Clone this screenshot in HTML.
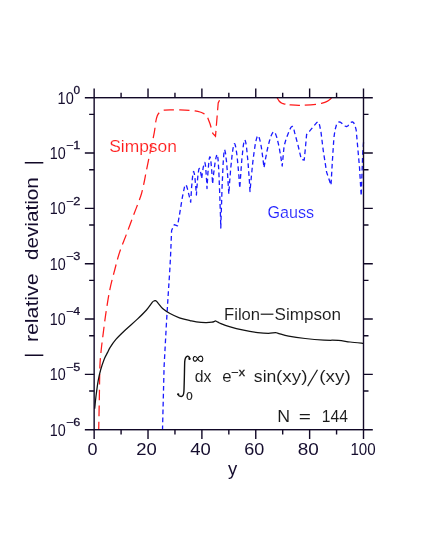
<!DOCTYPE html>
<html><head><meta charset="utf-8"><title>chart</title>
<style>html,body{margin:0;padding:0;background:#fff;width:425px;height:550px;overflow:hidden;font-family:"Liberation Sans",sans-serif}</style>
</head><body>
<svg width="425" height="550" viewBox="0 0 425 550" style="display:block;position:absolute;left:0;top:0;will-change:transform">
<rect x="0" y="0" width="425" height="550" fill="#ffffff"/>
<g fill="none" stroke-linejoin="round">
<path d="M98.70 430.10C98.80 425.08 99.10 410.60 99.30 400.00C99.50 389.40 99.58 374.83 99.90 366.50C100.22 358.17 100.70 355.10 101.20 350.00C101.70 344.90 102.10 342.17 102.90 335.90C103.70 329.63 104.82 320.25 106.00 312.40C107.18 304.55 108.55 295.87 110.00 288.80C111.45 281.73 113.13 275.98 114.70 270.00C116.27 264.02 117.43 258.88 119.40 252.90C121.37 246.92 124.15 240.37 126.50 234.10C128.85 227.83 131.15 221.57 133.50 215.30C135.85 209.03 139.07 200.92 140.60 196.50C142.13 192.08 142.03 191.55 142.70 188.80C143.37 186.05 143.97 183.13 144.60 180.00C145.23 176.87 145.45 175.20 146.50 170.00C147.55 164.80 149.60 155.07 150.90 148.80C152.20 142.53 153.48 136.95 154.30 132.40C155.12 127.85 155.32 124.23 155.80 121.50C156.28 118.77 156.67 117.42 157.20 116.00C157.73 114.58 158.28 113.83 159.00 113.00C159.72 112.17 160.72 111.47 161.50 111.00C162.28 110.53 163.33 110.33 163.70 110.20" stroke="#ff1a1a" stroke-width="1.25" stroke-dasharray="10.53 5.31" stroke-dashoffset="1.93"/>
<path d="M163.70 110.20C164.75 110.15 167.28 109.95 170.00 109.90C172.72 109.85 176.77 109.83 180.00 109.90C183.23 109.97 186.90 110.13 189.40 110.30C191.90 110.47 193.23 110.62 195.00 110.90C196.77 111.18 198.38 111.48 200.00 112.00C201.62 112.52 203.92 113.67 204.70 114.00L207.40 117.00L210.10 124.00L212.80 133.50L215.50 136.30L218.20 103.00L220.90 97.60" stroke="#ff1a1a" stroke-width="1.25" stroke-dasharray="10.3 5.2" stroke-dashoffset="0" stroke-linejoin="miter"/>
<path d="M277.20 97.80C277.52 98.33 278.32 100.08 279.10 101.00C279.88 101.92 280.80 102.77 281.90 103.30C283.00 103.83 284.43 103.95 285.70 104.20C286.97 104.45 287.15 104.62 289.50 104.80C291.85 104.98 295.42 105.37 299.80 105.30C304.18 105.23 312.18 104.73 315.80 104.40C319.42 104.07 319.62 103.80 321.50 103.30C323.38 102.80 325.53 102.18 327.10 101.40C328.67 100.62 330.17 99.20 330.90 98.60C331.63 98.00 331.40 97.93 331.50 97.80" stroke="#ff1a1a" stroke-width="1.25" stroke-dasharray="11 4.2 10.4 4.8 11.2 5.2 14 5"/>
<polyline points="162.5,430.1 164.1,366.5 166.5,322.0 168.3,293.0 169.8,270.0 170.6,255.0 171.6,230.6 174.2,224.7 177.5,225.9 179.4,215.3 182.5,196.5 184.6,186.5 185.6,184.6 186.6,186.0 187.6,189.4 190.7,202.2 190.7,202.2 190.9,198.0 191.2,194.2 191.4,190.5 191.6,187.1 191.9,184.0 192.1,181.2 192.4,178.7 192.6,176.5 192.8,174.7 193.1,173.2 193.3,172.1 193.6,171.5 193.8,171.7 194.0,172.5 194.3,173.5 194.5,174.9 194.7,176.6 195.0,178.5 195.2,180.7 195.4,183.1 195.7,185.8 195.9,188.6 196.2,191.7 196.4,195.0 196.4,195.0 196.6,191.6 196.8,188.5 197.1,185.5 197.3,182.7 197.5,180.2 197.7,177.8 197.9,175.7 198.2,173.8 198.4,172.1 198.6,170.7 198.8,169.6 199.1,168.8 199.3,168.4 199.5,168.5 199.7,168.9 199.9,169.5 200.2,170.2 200.4,171.1 200.6,172.0 200.8,173.2 201.0,174.4 201.3,175.8 201.5,177.2 201.7,178.8 201.7,178.8 201.9,176.9 202.1,175.0 202.4,173.3 202.6,171.7 202.8,170.2 203.0,168.8 203.2,167.5 203.5,166.3 203.7,165.3 203.9,164.4 204.1,163.6 204.3,163.0 204.6,162.6 204.8,162.4 205.0,162.9 205.2,164.0 205.5,165.7 205.7,167.8 205.9,170.4 206.1,173.3 206.3,176.6 206.6,180.2 206.8,184.2 207.0,188.5 207.0,188.5 207.2,184.3 207.5,180.3 207.7,176.6 207.9,173.1 208.2,170.0 208.4,167.1 208.6,164.5 208.9,162.2 209.1,160.3 209.3,158.7 209.6,157.5 209.8,156.8 210.0,156.9 210.3,157.6 210.5,158.8 210.7,160.4 211.0,162.3 211.2,164.6 211.4,167.1 211.7,170.0 211.9,173.1 212.1,176.5 212.4,180.1 212.6,184.0 212.6,184.0 212.9,180.4 213.3,177.0 213.6,173.8 214.0,170.9 214.3,168.1 214.7,165.5 215.0,163.2 215.3,161.1 215.7,159.2 216.0,157.6 216.4,156.2 216.7,155.2 217.0,154.5 217.4,154.4 217.7,156.3 218.1,159.9 218.4,164.7 218.8,170.8 219.1,177.9 219.4,186.1 219.8,195.2 220.1,205.2 220.5,216.2 220.8,228.0 220.8,228.0 221.1,216.4 221.5,205.5 221.8,195.5 222.1,186.3 222.5,177.9 222.8,170.5 223.1,164.0 223.5,158.6 223.8,154.2 224.1,151.1 224.5,149.6 224.8,150.1 225.1,151.3 225.5,153.1 225.8,155.4 226.1,158.2 226.5,161.3 226.8,164.9 227.1,168.9 227.5,173.2 227.8,177.9 228.1,182.9 228.5,188.3 228.8,194.0 228.8,194.0 229.3,187.3 229.7,181.0 230.2,175.1 230.6,169.6 231.1,164.6 231.6,160.0 232.0,155.9 232.5,152.3 232.9,149.2 233.4,146.7 233.8,144.8 234.3,143.7 234.8,143.8 235.2,145.0 235.7,147.0 236.1,149.6 236.6,152.7 237.1,156.4 237.5,160.6 238.0,165.3 238.4,170.4 238.9,175.9 239.3,181.9 239.8,188.3 239.8,188.3 240.2,181.5 240.7,175.1 241.1,169.2 241.5,163.7 241.9,158.7 242.4,154.2 242.8,150.2 243.2,146.7 243.6,143.8 244.1,141.6 244.5,140.2 244.9,139.8 245.3,140.8 245.8,142.6 246.2,145.1 246.6,148.2 247.0,151.9 247.4,156.2 247.9,160.9 248.3,166.1 248.7,171.8 249.2,177.9 249.6,184.5 250.0,191.5 250.0,191.5 250.6,184.7 251.2,178.3 251.8,172.3 252.3,166.7 252.9,161.4 253.5,156.6 254.1,152.1 254.7,148.1 255.2,144.6 255.8,141.6 256.4,139.1 257.0,137.1 257.6,135.9 258.2,135.6 258.8,136.4 259.3,138.0 259.9,140.1 260.5,142.8 261.1,145.9 261.7,149.4 262.2,153.4 262.8,157.8 263.4,162.6 264.0,167.7 264.0,167.7 264.8,163.1 265.5,158.8 266.3,154.8 267.0,151.0 267.8,147.5 268.6,144.3 269.3,141.5 270.1,138.9 270.8,136.6 271.6,134.7 272.3,133.3 273.1,132.2 273.9,131.7 274.6,132.2 275.4,133.5 276.1,135.4 276.9,137.8 277.6,140.6 278.4,143.9 279.2,147.5 279.9,151.6 280.7,156.0 281.4,160.8 282.2,166.0 282.2,166.0 284.1,146.0 286.2,138.6 288.0,134.0 289.8,129.6 291.0,127.2 292.3,126.3 293.5,127.5 294.7,132.9 298.0,145.1 301.3,159.3 304.2,160.0 305.3,149.2 306.6,134.5 310.2,130.4 314.3,125.5 316.5,122.8 317.9,121.8 319.3,124.0 320.9,131.3 323.3,150.9 326.6,172.1 331.0,185.2 332.3,162.3 333.9,137.8 335.0,130.0 336.5,124.7 337.8,122.5 339.2,121.8 340.8,122.4 343.0,124.3 345.0,126.0 346.4,126.6 347.8,126.0 349.5,124.0 351.0,122.4 352.3,121.8 353.6,122.6 355.0,125.5 356.2,130.2 359.5,167.3 361.2,196.0 362.7,154.0 363.7,140.0" stroke="#1a1aff" stroke-width="1.3" stroke-dasharray="4.7 3.2"/>
<path d="M94.70 408.80C94.90 406.83 95.32 401.70 95.90 397.00C96.48 392.30 97.42 385.10 98.20 380.60C98.98 376.10 99.62 373.53 100.60 370.00C101.58 366.47 102.93 362.33 104.10 359.40C105.27 356.47 106.62 354.37 107.60 352.40C108.58 350.43 108.62 349.77 110.00 347.60C111.38 345.43 113.35 342.33 115.90 339.40C118.45 336.47 121.77 333.33 125.30 330.00C128.83 326.67 133.57 322.73 137.10 319.40C140.63 316.07 143.95 312.87 146.50 310.00C149.05 307.13 151.12 303.72 152.40 302.20C153.68 300.68 153.70 301.17 154.20 300.90C154.70 300.63 155.00 300.52 155.40 300.60C155.80 300.68 156.13 300.95 156.60 301.40C157.07 301.85 157.15 302.07 158.20 303.30C159.25 304.53 160.93 307.10 162.90 308.80C164.87 310.50 167.25 312.00 170.00 313.50C172.75 315.00 176.07 316.62 179.40 317.80C182.73 318.98 187.18 319.92 190.00 320.60C192.82 321.28 193.68 321.57 196.30 321.90C198.92 322.23 203.08 322.55 205.70 322.60C208.32 322.65 210.53 322.40 212.00 322.20C213.47 322.00 213.85 321.60 214.50 321.40C215.15 321.20 215.43 320.93 215.90 321.00C216.37 321.07 216.70 321.47 217.30 321.80C217.90 322.13 217.48 322.20 219.50 323.00C221.52 323.80 225.38 325.40 229.40 326.60C233.42 327.80 238.88 329.20 243.60 330.20C248.32 331.20 253.57 332.07 257.70 332.60C261.83 333.13 265.42 333.40 268.40 333.40C271.38 333.40 273.83 332.57 275.60 332.60C277.37 332.63 276.83 333.02 279.00 333.60C281.17 334.18 284.23 335.28 288.60 336.10C292.97 336.92 299.28 337.83 305.20 338.50C311.12 339.17 318.58 339.78 324.10 340.10C329.62 340.42 333.97 340.08 338.30 340.40C342.63 340.72 345.87 341.50 350.10 342.00C354.33 342.50 361.43 343.17 363.70 343.40" stroke="#111111" stroke-width="1.25"/>
</g>
<g stroke="#110826" stroke-width="1.4" fill="none" stroke-linecap="butt">
<rect x="94.15" y="97.70" width="269.35" height="332.00"/>
<path d="M94.15 429.70v9.2M94.15 97.70v-9.2M121.09 429.70v4.9M121.09 97.70v-4.9M148.02 429.70v9.2M148.02 97.70v-9.2M174.96 429.70v4.9M174.96 97.70v-4.9M201.89 429.70v9.2M201.89 97.70v-9.2M228.83 429.70v4.9M228.83 97.70v-4.9M255.76 429.70v9.2M255.76 97.70v-9.2M282.69 429.70v4.9M282.69 97.70v-4.9M309.63 429.70v9.2M309.63 97.70v-9.2M336.57 429.70v4.9M336.57 97.70v-4.9M363.50 429.70v9.2M363.50 97.70v-9.2M94.15 97.70h-9.3M363.50 97.70h9.3M94.15 114.36h-5.0M363.50 114.36h5.0M94.15 153.03h-9.3M363.50 153.03h9.3M94.15 169.69h-5.0M363.50 169.69h5.0M94.15 208.37h-9.3M363.50 208.37h9.3M94.15 225.02h-5.0M363.50 225.02h5.0M94.15 263.70h-9.3M363.50 263.70h9.3M94.15 280.36h-5.0M363.50 280.36h5.0M94.15 319.03h-9.3M363.50 319.03h9.3M94.15 335.69h-5.0M363.50 335.69h5.0M94.15 374.37h-9.3M363.50 374.37h9.3M94.15 391.02h-5.0M363.50 391.02h5.0M94.15 429.70h-9.3M363.50 429.70h9.3"/>
<path d="M24.8 162.8H43.3M24.8 355.2H43.3" stroke-width="1.4"/>
</g>
<g font-family="'Liberation Sans', sans-serif" stroke="#ffffff" stroke-width="0">
<text transform="translate(87.41 454.60) scale(1.1048 1)" font-size="16.3" fill="#150d2e">0</text>
<text transform="translate(136.25 454.60) scale(1.1343 1)" font-size="16.3" fill="#150d2e">20</text>
<text transform="translate(190.18 454.60) scale(1.1328 1)" font-size="16.3" fill="#150d2e">40</text>
<text transform="translate(244.17 454.60) scale(1.1045 1)" font-size="16.3" fill="#150d2e">60</text>
<text transform="translate(297.67 454.60) scale(1.1615 1)" font-size="16.3" fill="#150d2e">80</text>
<text transform="translate(350.44 454.60) scale(0.9300 1)" font-size="16.3" fill="#150d2e">100</text>
<text transform="translate(57.58 103.80) scale(0.8923 1)" font-size="16.3" fill="#150d2e">10</text>
<text transform="translate(73.47 94.00) scale(1.1400 1)" font-size="10.4" fill="#150d2e" stroke="#150d2e" stroke-width="0.25">0</text>
<text transform="translate(49.80 159.13) scale(0.8800 1)" font-size="16.3" fill="#150d2e">10</text>
<text transform="translate(65.89 149.43) scale(1.2230 1)" font-size="10.4" fill="#150d2e" stroke="#150d2e" stroke-width="0.25">−1</text>
<text transform="translate(49.80 214.47) scale(0.8800 1)" font-size="16.3" fill="#150d2e">10</text>
<text transform="translate(65.89 204.77) scale(1.2230 1)" font-size="10.4" fill="#150d2e" stroke="#150d2e" stroke-width="0.25">−2</text>
<text transform="translate(49.80 269.80) scale(0.8800 1)" font-size="16.3" fill="#150d2e">10</text>
<text transform="translate(65.89 260.10) scale(1.2230 1)" font-size="10.4" fill="#150d2e" stroke="#150d2e" stroke-width="0.25">−3</text>
<text transform="translate(49.80 325.13) scale(0.8800 1)" font-size="16.3" fill="#150d2e">10</text>
<text transform="translate(65.90 315.43) scale(1.1955 1)" font-size="10.4" fill="#150d2e" stroke="#150d2e" stroke-width="0.25">−4</text>
<text transform="translate(49.80 380.47) scale(0.8800 1)" font-size="16.3" fill="#150d2e">10</text>
<text transform="translate(65.90 370.77) scale(1.2091 1)" font-size="10.4" fill="#150d2e" stroke="#150d2e" stroke-width="0.25">−5</text>
<text transform="translate(49.80 435.80) scale(0.8800 1)" font-size="16.3" fill="#150d2e">10</text>
<text transform="translate(65.89 426.10) scale(1.2230 1)" font-size="10.4" fill="#150d2e" stroke="#150d2e" stroke-width="0.25">−6</text>
<text transform="translate(228.07 475.00) scale(1.0286 1)" font-size="18" fill="#150d2e">y</text>
<text transform="translate(38.20 342.10) rotate(-90) scale(1.1224 1)" font-size="19" fill="#150d2e">relative</text>
<text transform="translate(38.20 260.02) rotate(-90) scale(1.0901 1)" font-size="19" fill="#150d2e">deviation</text>
<text transform="translate(109.21 151.60) scale(1.0544 1)" font-size="16.5" fill="#ff1a1a" stroke-width="0.15">Simpson</text>
<text transform="translate(267.57 218.20) scale(0.9768 1)" font-size="16.5" fill="#1a1aff" stroke-width="0.15">Gauss</text>
<text transform="translate(224.04 319.50) scale(1.0090 1)" font-size="16.5" fill="#1a1a1a" stroke-width="0.05">Filon</text>
<text transform="translate(274.52 319.50) scale(1.0368 1)" font-size="16.5" fill="#1a1a1a" stroke-width="0.05">Simpson</text>
<text transform="translate(186.13 399.60) scale(0.9956 1)" font-size="11.5" fill="#1a1a1a" stroke="#1a1a1a" stroke-width="0.25">0</text>
<text transform="translate(194.70 381.70) scale(0.9564 1)" font-size="16.5" fill="#1a1a1a" stroke-width="0.05">dx</text>
<text transform="translate(222.37 381.70) scale(1.0159 1)" font-size="16.5" fill="#1a1a1a" stroke-width="0.05">e</text>
<text transform="translate(231.39 375.60) scale(1.2241 1)" font-size="10.2" fill="#1a1a1a" stroke="#1a1a1a" stroke-width="0.3">−x</text>
<text transform="translate(253.86 381.70) scale(1.0701 1)" font-size="16.5" fill="#1a1a1a" stroke-width="0.05">sin</text>
<text transform="translate(276.06 381.70) scale(1.1412 1)" font-size="16.5" fill="#1a1a1a" stroke-width="0.05">(xy)</text>
<text transform="translate(319.25 381.70) scale(1.1451 1)" font-size="16.5" fill="#1a1a1a" stroke-width="0.05">(xy)</text>
<text transform="translate(277.15 421.70) scale(1.0773 1)" font-size="16.5" fill="#1a1a1a" stroke-width="0.05">N</text>
<text transform="translate(298.85 421.70) scale(1.2677 1)" font-size="16.5" fill="#1a1a1a" stroke-width="0.05">=</text>
<text transform="translate(321.81 421.70) scale(0.9507 1)" font-size="16.5" fill="#1a1a1a" stroke-width="0.05">144</text>
</g>
<path d="M189.7 358.8C189.5 357 188.4 356 187.3 356.2C185.6 356.6 184.9 359 184.7 362C184.5 368 184.3 385 183.9 391.5C183.7 394.6 182.8 396.5 181.2 396.5C179.8 396.5 178.5 395.7 178.1 394.4" fill="none" stroke="#111" stroke-width="1.4" stroke-linecap="round"/>
<circle cx="189.5" cy="358.9" r="1.15" fill="#111"/><circle cx="178.2" cy="394.3" r="1.15" fill="#111"/>
<path d="M197.6 358.8C196.6 356.8 195.4 356.2 194.4 356.6C193 357.2 192.8 360 194.2 360.9C195.6 361.6 196.8 360.4 197.6 358.8C198.6 357 199.6 355.9 201 356.1C203 356.5 203.6 360.4 201.4 361.4C199.8 362 198.6 360.6 197.6 358.8Z" fill="none" stroke="#111" stroke-width="1.15"/>
<path d="M307.7 386.2L317.5 369.8" fill="none" stroke="#1a1a1a" stroke-width="1.25"/>
<path d="M260.7 314.2H273.4" fill="none" stroke="#1a1a1a" stroke-width="1.2"/>

</svg>
</body></html>
